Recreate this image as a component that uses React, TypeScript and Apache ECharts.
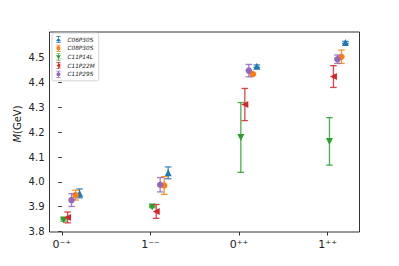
import React, { useEffect, useRef } from "react";
import * as echarts from "echarts";

const categories = ["0⁻⁺", "1⁻⁻", "0⁺⁺", "1⁺⁺"];
const categoryPositions = [0, 1, 2, 3];
const yTicks = [3.8, 3.9, 4.0, 4.1, 4.2, 4.3, 4.4, 4.5];

const seriesNames = ["C06P30S", "C08P30S", "C11P14L", "C11P22M", "C11P29S"];
const seriesColors = ["#1f77b4", "#ff7f0e", "#2ca02c", "#d62728", "#9467bd"];
const seriesOffsets = [0.2, 0.155, 0.02, 0.065, 0.11];

const c06p30sValues = [3.953, 4.036, 4.467, 4.563];
const c06p30sErrors = [0.018, 0.024, 0.005, 0.004];
const c08p30sValues = [3.946, 3.985, 4.435, 4.505];
const c08p30sErrors = [0.02, 0.036, 0.003, 0.027];
const c11p14lValues = [3.845, 3.898, 4.179, 4.163];
const c11p14lErrors = [0.004, 0.003, 0.141, 0.096];
const c11p22mValues = [3.856, 3.88, 4.312, 4.425];
const c11p22mErrors = [0.022, 0.028, 0.065, 0.044];
const c11p29sValues = [3.926, 3.988, 4.449, 4.495];
const c11p29sErrors = [0.026, 0.029, 0.025, 0.017];

const allValues = [c06p30sValues, c08p30sValues, c11p14lValues, c11p22mValues, c11p29sValues];
const allErrors = [c06p30sErrors, c08p30sErrors, c11p14lErrors, c11p22mErrors, c11p29sErrors];

const capTop = "M2,0 H8 V1 H2 Z M2,9 H8 V10 H2 Z M4.5,0 H5.5 V10 H4.5 Z ";
const legendIcons = [
  "path://" + capTop + "M5,2 L8.5,7.5 L1.5,7.5 Z",
  "path://" + capTop + "M2,5 A3,3 0 1,1 8,5 A3,3 0 1,1 2,5 Z",
  "path://" + capTop + "M1.5,2.5 L8.5,2.5 L5,8 Z",
  "path://" + capTop + "M2,5 L7.5,1.5 L7.5,8.5 Z",
  "path://" + capTop + "M2,5 A3,3 0 1,1 8,5 A3,3 0 1,1 2,5 Z",
];
const markerSymbols = ["triangle", "circle", "triangle", "triangle", "circle"];
const markerRotations = [0, 0, 180, 90, 0];
const markerSizes = [7, 6.5, 7, 7, 6.5];

export default function App() {
  const ref = useRef<HTMLDivElement>(null);
  useEffect(() => {
    if (!ref.current) return;
    const chart = echarts.init(ref.current, null, { renderer: "svg" });
    const series: any[] = [];
    seriesNames.forEach((name, i) => {
      const color = seriesColors[i];
      const errData = allValues[i].map((v, j) => [
        categoryPositions[j] + seriesOffsets[i],
        v - allErrors[i][j],
        v + allErrors[i][j],
      ]);
      series.push({
        name,
        type: "custom",
        data: errData,
        z: 2 + i,
        renderItem: (params: any, api: any) => {
          const x = api.value(0);
          const top = api.coord([x, api.value(2)]);
          const bot = api.coord([x, api.value(1)]);
          const cw = 3.3;
          const st = { stroke: color, lineWidth: 1.3, opacity: 0.85 };
          return {
            type: "group",
            children: [
              { type: "line", shape: { x1: top[0], y1: top[1], x2: bot[0], y2: bot[1] }, style: st },
              { type: "line", shape: { x1: top[0] - cw, y1: top[1], x2: top[0] + cw, y2: top[1] }, style: st },
              { type: "line", shape: { x1: bot[0] - cw, y1: bot[1], x2: bot[0] + cw, y2: bot[1] }, style: st },
            ],
          };
        },
      });
      series.push({
        name,
        type: "scatter",
        z: 2 + i,
        data: allValues[i].map((v, j) => [categoryPositions[j] + seriesOffsets[i], v]),
        symbol: markerSymbols[i],
        symbolRotate: markerRotations[i],
        symbolSize: markerSizes[i],
        itemStyle: { color, opacity: 1 },
      });
    });

    chart.setOption({
      animation: false,
      grid: {
        left: 49.5,
        right: 39.5,
        top: 32,
        bottom: 34,
        show: true,
        borderColor: "#333",
        borderWidth: 1,
        backgroundColor: "transparent",
      },
      xAxis: {
        type: "value",
        min: -0.139,
        max: 3.359,
        axisLine: { show: false },
        splitLine: { show: false },
        axisTick: { show: true, length: 3.5, customValues: categoryPositions, lineStyle: { color: "#333" } },
        axisLabel: {
          customValues: categoryPositions,
          margin: 7,
          fontFamily: "DejaVu Sans",
          fontSize: 11,
          color: "#222",
          formatter: (v: number) => categories[Math.round(v)] ?? "",
        },
      },
      yAxis: {
        type: "value",
        min: 3.797,
        max: 4.605,
        axisLine: { show: false },
        splitLine: { show: false },
        axisTick: { show: true, length: 3.5, customValues: yTicks, lineStyle: { color: "#333" } },
        axisLabel: {
          customValues: yTicks,
          margin: 5,
          fontFamily: "DejaVu Sans",
          fontSize: 10,
          color: "#222",
          formatter: (v: number) => v.toFixed(1),
        },
      },
      legend: {
        orient: "vertical",
        left: 52,
        top: 33,
        padding: [3, 4, 3, 4],
        itemWidth: 8,
        itemHeight: 7,
        itemGap: 1.7,
        itemTextGap: 6,
        backgroundColor: "rgba(255,255,255,0.8)",
        borderColor: "#ccc",
        borderWidth: 0.8,
        borderRadius: 2,
        textStyle: { fontSize: 5.8, fontStyle: "italic", fontFamily: "DejaVu Sans", color: "#222" },
        data: seriesNames.map((n, i) => ({ name: n, icon: legendIcons[i], itemStyle: { color: seriesColors[i] } })),
      },
      graphic: [
        {
          type: "text",
          x: 17,
          y: 124,
          rotation: Math.PI / 2,
          style: {
            text: "{i|M}(GeV)",
            align: "center",
            verticalAlign: "middle",
            fontFamily: "DejaVu Sans",
            fontSize: 10,
            fill: "#222",
            rich: { i: { fontStyle: "italic", fontFamily: "DejaVu Sans", fontSize: 10, fill: "#222" } },
          },
        },
      ],
      series,
    });
    return () => chart.dispose();
  }, []);
  return <div ref={ref} style={{ width: 399, height: 266, position: "absolute", left: 0, top: 0 }} />;
}
